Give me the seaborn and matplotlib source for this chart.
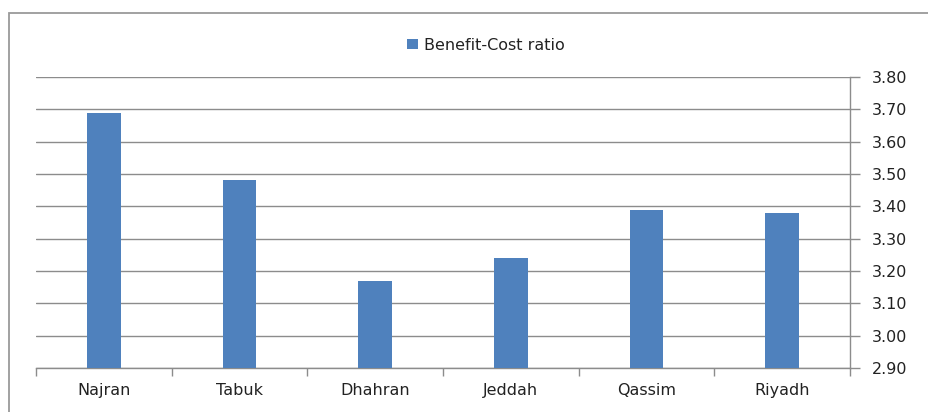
import matplotlib
matplotlib.use("Agg")
import matplotlib.pyplot as plt
import matplotlib.patches as mpatches
import seaborn as sns
import pandas as pd
import numpy as np

cities = ["Najran", "Tabuk", "Dhahran", "Jeddah", "Qassim", "Riyadh"]
ratios = [3.69, 3.48, 3.17, 3.24, 3.39, 3.38]
yticks = [2.90, 3.00, 3.10, 3.20, 3.30, 3.40, 3.50, 3.60, 3.70, 3.80]
series_name = "Benefit-Cost ratio"

df = pd.DataFrame({"city": cities, "ratio": ratios})

sns.set_theme(style="white")
plt.rcParams['font.family'] = ['DejaVu Sans']

fig = plt.figure(figsize=(9.29, 4.12), dpi=100)
ax = fig.add_axes([36/929, 1 - 368/412, (850 - 36)/929, (368 - 77)/412])

bar_color = "#4F81BD"
grid_color = "#8C8C8C"
text_color = "#222222"

sns.barplot(data=df, x="city", y="ratio", color=bar_color, width=0.25,
            saturation=1, ax=ax, label=series_name, zorder=3, linewidth=0)

ax.set_ylim(2.90, 3.80)
ax.set_xlim(-0.5, len(cities) - 0.5)
ax.set_yticks(yticks)
ax.set_yticklabels([f"{v:.2f}" for v in yticks])
ax.yaxis.tick_right()
ax.grid(axis="y", color=grid_color, linewidth=1, zorder=0)
ax.grid(axis="x", visible=False)
ax.set_axisbelow(True)

for s in ["left", "top"]:
    ax.spines[s].set_visible(False)
for s in ["right", "bottom"]:
    ax.spines[s].set_visible(True)
    ax.spines[s].set_color(grid_color)
    ax.spines[s].set_linewidth(1)

ax.tick_params(axis="y", right=True, left=False, length=7, width=1,
               color=grid_color, labelsize=11.5, labelcolor=text_color, pad=9)
ax.tick_params(axis="x", which="major", length=0, labelsize=11.5,
               labelcolor=text_color, pad=11)
ax.set_xticks(np.arange(-0.5, len(cities), 1.0), minor=True)
ax.tick_params(axis="x", which="minor", bottom=True, length=6, width=1,
               color=grid_color)
ax.set_xlabel("")
ax.set_ylabel("")

leg = ax.legend(loc="center", bbox_to_anchor=(486/929, 1 - 45/412),
                bbox_transform=fig.transFigure, frameon=False, fontsize=11.5,
                handlelength=0.65, handleheight=0.65, handletextpad=0.4)
for t in leg.get_texts():
    t.set_color(text_color)

# outer chart frame
frame = mpatches.Rectangle((9/929, -0.1), 1.2, 1.1 - 13/412,
                           transform=fig.transFigure, fill=False,
                           edgecolor="#9A9A9A", linewidth=1.3)
fig.patches.append(frame)

fig.savefig("out.png", dpi=100)
